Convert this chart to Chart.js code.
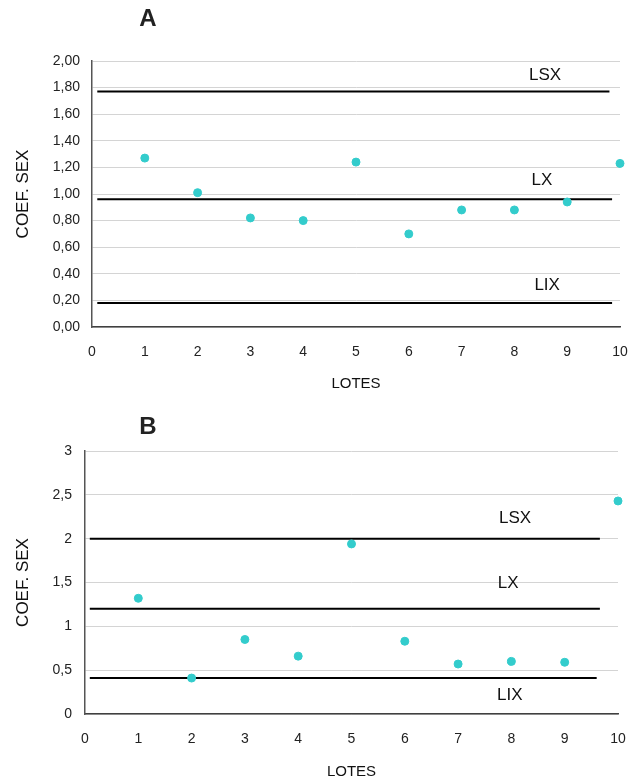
<!DOCTYPE html>
<html>
<head>
<meta charset="utf-8">
<script src="https://cdn.jsdelivr.net/npm/chart.js@4"></script>
<style>
  html, body { margin: 0; padding: 0; background: #fff; }
  body { width: 638px; height: 779px; position: relative; overflow: hidden; font-family: 'Liberation Sans', Arial, sans-serif; }
  .panel { position: absolute; left: 0; }
  .ttl { position: absolute; font-weight: bold; font-size: 24px; color: #222; transform: translate(-50%, -50%); }
</style>
</head>
<body>
<div class="panel" style="top:0;width:638px;height:395px;"><canvas id="cA" width="638" height="395"></canvas></div>
<div class="panel" style="top:395px;width:638px;height:384px;"><canvas id="cB" width="638" height="384"></canvas></div>
<div class="ttl" style="left:148px;top:18px;">A</div>
<div class="ttl" style="left:148px;top:426px;">B</div>
<script>
// ---------- data ----------
const lotes = [1, 2, 3, 4, 5, 6, 7, 8, 9, 10];
const xTicks = [0, 1, 2, 3, 4, 5, 6, 7, 8, 9, 10];

const coefA = [1.27, 1.01, 0.82, 0.80, 1.24, 0.70, 0.88, 0.88, 0.94, 1.23];
const limitsA = { LSX: 1.77, LX: 0.96, LIX: 0.18 };
const yTicksA = [0, 0.2, 0.4, 0.6, 0.8, 1.0, 1.2, 1.4, 1.6, 1.8, 2.0];

const coefB = [1.32, 0.41, 0.85, 0.66, 1.94, 0.83, 0.57, 0.60, 0.59, 2.43];
const limitsB = { LSX: 2.0, LX: 1.2, LIX: 0.41 };
const yTicksB = [0, 0.5, 1, 1.5, 2, 2.5, 3];

const FONT = "'Liberation Sans', Arial, sans-serif";
const POINT_COLOR = '#33CCCC';

// plugin: labels for limit lines, drawn at data coordinates
const limitLabels = {
  id: 'limitLabels',
  afterDatasetsDraw(chart, args, opts) {
    const { ctx, scales: { x, y } } = chart;
    ctx.save();
    ctx.font = opts.font;
    ctx.fillStyle = '#111';
    ctx.textAlign = 'center';
    ctx.textBaseline = 'middle';
    (opts.items || []).forEach(it => {
      ctx.fillText(it.text, x.getPixelForValue(it.x), y.getPixelForValue(it.y));
    });
    ctx.restore();
  }
};

function limitDataset(value, x0, x1) {
  return {
    type: 'line',
    data: [{ x: x0, y: value }, { x: x1, y: value }],
    borderColor: '#000',
    borderWidth: 2,
    pointRadius: 0,
    fill: false,
    clip: false,
    order: 2
  };
}

function makeChart(id, cfg) {
  const ctx = document.getElementById(id);
  return new Chart(ctx, {
    type: 'scatter',
    data: {
      datasets: [
        {
          data: lotes.map((l, i) => ({ x: l, y: cfg.values[i] })),
          backgroundColor: POINT_COLOR,
          borderColor: POINT_COLOR,
          pointRadius: 4,
          pointHoverRadius: 4,
          clip: false,
          order: 1
        },
        limitDataset(cfg.limits.LSX, cfg.lineStart, cfg.lineEnd[0]),
        limitDataset(cfg.limits.LX, cfg.lineStart, cfg.lineEnd[1]),
        limitDataset(cfg.limits.LIX, cfg.lineStart, cfg.lineEnd[2])
      ]
    },
    options: {
      responsive: false,
      animation: false,
      devicePixelRatio: 1,
      layout: { padding: cfg.padding },
      plugins: {
        legend: { display: false },
        tooltip: { enabled: false },
        limitLabels: { font: '17px ' + FONT, items: cfg.labels }
      },
      scales: {
        x: {
          type: 'linear',
          min: 0, max: 10,
          afterBuildTicks: s => { s.ticks = xTicks.map(v => ({ value: v })); },
          afterFit: s => { s.height = cfg.xAxisHeight; s.paddingLeft = 0; s.paddingRight = 0; },
          grid: { display: false, drawTicks: false },
          border: { display: true, color: '#404040', width: 1.5 },
          ticks: { color: '#222', font: { family: FONT, size: 14 }, padding: 17, maxRotation: 0, autoSkip: false },
          title: { display: true, text: 'LOTES', color: '#111', font: { family: FONT, size: 15 }, padding: { top: 0, bottom: cfg.xTitlePad } }
        },
        y: {
          type: 'linear',
          min: cfg.yMin, max: cfg.yMax,
          afterBuildTicks: s => { s.ticks = cfg.yTicks.map(v => ({ value: v })); },
          afterFit: s => { s.width = cfg.yAxisWidth; s.paddingTop = 0; s.paddingBottom = 0; },
          grid: { color: '#d4d4d4', lineWidth: 1, drawTicks: false },
          border: { display: true, color: '#555', width: 1.5 },
          ticks: { color: '#222', font: { family: FONT, size: 14 }, padding: cfg.yTickPad, callback: cfg.fmt, autoSkip: false },
          title: { display: true, text: 'COEF. SEX', color: '#111', font: { family: FONT, size: 17 }, padding: { top: 13, bottom: 0 } }
        }
      }
    },
    plugins: [limitLabels]
  });
}

makeChart('cA', {
  values: coefA, limits: limitsA, yTicks: yTicksA, yMin: 0, yMax: 2,
  lineStart: 0.1, lineEnd: [9.8, 9.85, 9.85],
  padding: { top: 61, left: 0, right: 18, bottom: 0 },
  xAxisHeight: 68, yAxisWidth: 92, yTickPad: 12, xTitlePad: 2,
  fmt: v => v.toFixed(2).replace('.', ','),
  labels: [
    { text: 'LSX', x: 8.58, y: 1.895 },
    { text: 'LX', x: 8.52, y: 1.105 },
    { text: 'LIX', x: 8.62, y: 0.316 }
  ]
});

makeChart('cB', {
  values: coefB, limits: limitsB, yTicks: yTicksB, yMin: 0, yMax: 3,
  lineStart: 0.09, lineEnd: [9.66, 9.66, 9.6],
  padding: { top: 56, left: 0, right: 20, bottom: 0 },
  xAxisHeight: 65, yAxisWidth: 85, yTickPad: 13, xTitlePad: -2,
  fmt: v => String(Number(v.toFixed(1))).replace('.', ','),
  labels: [
    { text: 'LSX', x: 8.07, y: 2.233 },
    { text: 'LX', x: 7.94, y: 1.494 },
    { text: 'LIX', x: 7.97, y: 0.208 }
  ]
});
</script>
</body>
</html>
